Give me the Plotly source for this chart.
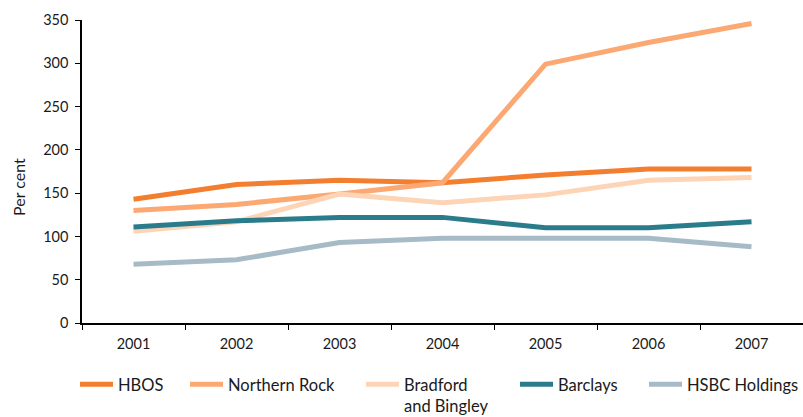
import plotly.graph_objects as go

years = ["2001", "2002", "2003", "2004", "2005", "2006", "2007"]
hbos = [143, 160, 165, 162, 171, 178, 178]
northern_rock = [130, 137, 149, 162, 299, 324, 346]
bradford_bingley = [106, 117, 149, 139, 148, 165, 168]
barclays = [111, 118, 122, 122, 110, 110, 117]
hsbc = [68, 73, 93, 98, 98, 98, 88]

series = [
    ("HBOS", hbos, "#F47E2F"),
    ("Northern Rock", northern_rock, "#FBA872"),
    ("Bradford<br>and Bingley", bradford_bingley, "#FDD4B6"),
    ("Barclays", barclays, "#2B7C8B"),
    ("HSBC Holdings", hsbc, "#A7BBC7"),
]
legend_x = [75, 185, 361, 515, 644]

fig = go.Figure()
font = "Lato, 'Open Sans', sans-serif"
layout_legends = {}
for i, (name, vals, col) in enumerate(series):
    lname = "legend" if i == 0 else f"legend{i+1}"
    fig.add_trace(go.Scatter(x=years, y=vals, name=name, mode="lines",
                             line=dict(color=col, width=5), legend=lname))
    layout_legends[lname] = dict(
        orientation="h", xref="container", yref="container",
        x=legend_x[i] / 803, y=1 - 367 / 417, xanchor="left", yanchor="top",
        valign="top", font=dict(size=16.5), bgcolor="rgba(0,0,0,0)",
        itemwidth=33)

fig.update_layout(
    width=803, height=417,
    margin=dict(l=82, r=0, t=20, b=94),
    plot_bgcolor="white", paper_bgcolor="white",
    font=dict(family=font, size=14, color="#1a1a1a"),
    showlegend=True,
    xaxis=dict(type="category", range=[-0.5, 6.5], tickson="boundaries",
               showline=True, linecolor="black", linewidth=2,
               ticks="outside", ticklen=5, tickcolor="black",
               showgrid=False, zeroline=False, ticklabelstandoff=7,
               tickfont=dict(size=14.5)),
    yaxis=dict(range=[0, 350], dtick=50, showline=True, linecolor="black",
               linewidth=2, ticks="outside", ticklen=5, tickcolor="black",
               showgrid=False, zeroline=False, ticksuffix=" ",
               tickfont=dict(size=14.5)),
    annotations=[dict(text="Per cent", textangle=-90, showarrow=False,
                      xref="paper", yref="paper",
                      x=(18 - 82) / 721, y=(323 - 187) / 303,
                      xanchor="center", yanchor="middle",
                      font=dict(size=16))],
    **layout_legends,
)
fig.write_html("out.html")
